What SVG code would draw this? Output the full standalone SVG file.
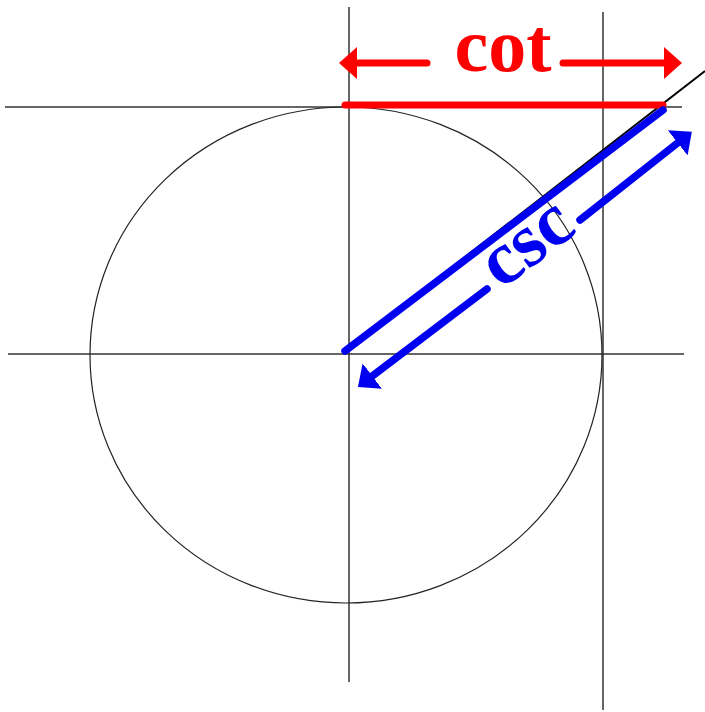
<svg xmlns="http://www.w3.org/2000/svg" width="705" height="712" viewBox="0 0 705 712">
<style>
.ax{stroke:#333;stroke-width:1.5;fill:none}
.circ{stroke:#222;stroke-width:1.2;fill:none}
.red{stroke:#ff0000;stroke-width:7;stroke-linecap:round;fill:none}
.blue{stroke:#0000f0;stroke-width:7.5;stroke-linecap:round;fill:none}
.lbl{font-family:"Liberation Serif","Times New Roman",serif;font-weight:bold;font-size:76px;text-anchor:middle}
</style>
<defs>
<marker id="ar" markerUnits="userSpaceOnUse" markerWidth="20" markerHeight="36" viewBox="0 -18 20 36" refX="0" refY="0" orient="auto"><path d="M0,-16 L18,0 L0,16 Z" fill="#ff0000"/></marker>
<marker id="ab" markerUnits="userSpaceOnUse" markerWidth="20" markerHeight="36" viewBox="0 -18 20 36" refX="0" refY="0" orient="auto"><path d="M0,-16 L18,0 L0,16 Z" fill="#0000f0"/></marker>
</defs>
<g id="axes">
<line class="ax" x1="8" y1="354" x2="684" y2="354"/>
<line class="ax" x1="349" y1="7" x2="349" y2="682"/>
<line class="ax" x1="5" y1="107" x2="682" y2="107"/>
<line class="ax" x1="603" y1="12" x2="603" y2="710"/>
</g>
<g id="circle"><ellipse class="circ" cx="346" cy="355" rx="256" ry="248"/></g>
<g id="connectors">
<line x1="345" y1="350" x2="705" y2="71" stroke="#000" stroke-width="2"/>
<line class="red" x1="345" y1="105" x2="663" y2="105"/>
<line class="blue" x1="345" y1="351" x2="663" y2="110"/>
<line class="red" x1="427" y1="63" x2="357" y2="63" marker-end="url(#ar)"/>
<line class="red" x1="563" y1="63" x2="664" y2="63" marker-end="url(#ar)"/>
<line class="blue" x1="580" y1="220" x2="677.7" y2="142.9" marker-end="url(#ab)"/>
<line class="blue" x1="487" y1="289" x2="372.3" y2="376.1" marker-end="url(#ab)"/>
</g>
<g id="cot"><text class="lbl" x="503" y="71" fill="#ff0000">cot</text></g>
<g id="csc"><text class="lbl" transform="translate(540,261) rotate(-37)" fill="#0000f0">csc</text></g>
</svg>
